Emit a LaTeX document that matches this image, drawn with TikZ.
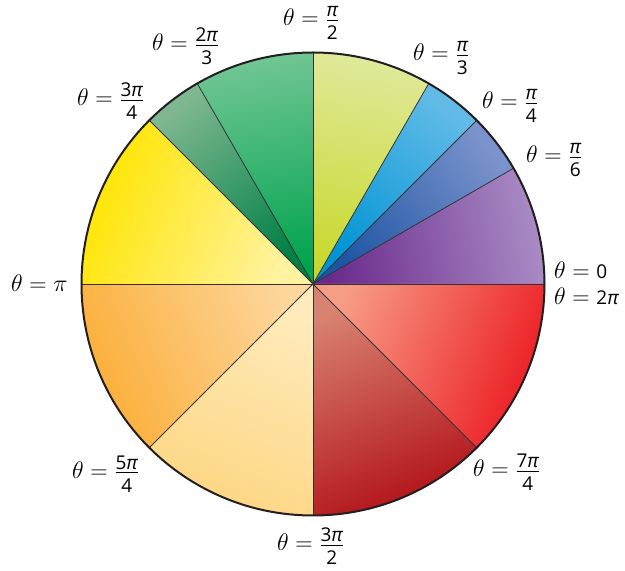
\RequirePackage{fix-cm}
\documentclass[tikz,border=0pt]{standalone}
\usepackage{amsmath}
\usepackage{fontspec}
\setsansfont{Open Sans}
\newcommand\sdig[1]{\mbox{\fontsize{19}{22}\selectfont\sffamily #1}}
\newcommand\spi{\mbox{\fontsize{19}{22}\selectfont\sffamily\itshape π}}
\newcommand\thlab[2]{$\theta = \genfrac{}{}{0.9pt}{1}{#1}{\rule{0pt}{18pt}#2}$}
\definecolor{puC}{HTML}{6A2A8C}\definecolor{puR}{HTML}{A98BC4}
\definecolor{bpC}{HTML}{1D55A3}\definecolor{bpR}{HTML}{7B93CC}
\definecolor{cyC}{HTML}{0094D4}\definecolor{cyR}{HTML}{62BBE7}
\definecolor{ygC}{HTML}{C8D82B}\definecolor{ygR}{HTML}{E0E99A}
\definecolor{grC}{HTML}{00A34E}\definecolor{grR}{HTML}{70C693}
\definecolor{ggC}{HTML}{008045}\definecolor{ggR}{HTML}{7EB792}
\definecolor{yeC}{HTML}{FFF3A2}\definecolor{yeR}{HTML}{FFE500}
\definecolor{orC}{HTML}{FDD69C}\definecolor{orR}{HTML}{FBAE38}
\definecolor{ltC}{HTML}{FFEBBC}\definecolor{ltR}{HTML}{FDD682}
\definecolor{drC}{HTML}{D8836F}\definecolor{drR}{HTML}{B21218}
\definecolor{reC}{HTML}{F79D85}\definecolor{reR}{HTML}{EC1C24}
\definecolor{rimcol}{HTML}{231F20}
\definecolor{spokecol}{HTML}{333333}
\newcommand\sector[6]{%
  \shade[bottom color=#3, middle color=#6, top color=#4, shading angle=#5]
    (C) -- ++(#1:231.5) arc[start angle=#1, end angle=#2, radius=231.5] -- cycle;}
\tikzset{
  lab/.style={inner sep=0pt, anchor=base west, font=\fontsize{24}{28}\selectfont},
  spoke/.style={draw=spokecol, line width=0.8pt},
  rim/.style={draw=rimcol, line width=2pt}
}
\begin{document}
\begin{tikzpicture}[x=1pt,y=1pt]
\useasboundingbox (0,0) rectangle (625,571);
\coordinate (C) at (313,287);
\sector{0}{30}{puC}{puR}{-80}{puC!50!puR}
\sector{30}{45}{bpC}{bpR}{-52.5}{bpC!50!bpR}
\sector{45}{60}{cyC}{cyR}{-37.5}{cyC!55!cyR}
\sector{60}{90}{ygC}{ygR}{-10}{ygC!50!ygR}
\sector{90}{120}{grC}{grR}{10}{grC!85!grR}
\sector{120}{135}{ggC}{ggR}{37.5}{ggC!50!ggR}
\sector{135}{180}{yeC}{yeR}{67.5}{yeC!50!yeR}
\sector{180}{225}{orC}{orR}{112.5}{orC!50!orR}
\sector{225}{270}{ltC}{ltR}{157.5}{ltC!50!ltR}
\sector{270}{315}{drC}{drR}{-157.5}{drC!50!drR}
\sector{315}{360}{reC}{reR}{-112.5}{reC!50!reR}
\foreach \a in {0,30,45,60,90,120,135,180,225,270,315}
  \draw[spoke] (C) -- ++(\a:231.5);
\draw[rim] (C) circle[radius=231.5];
\node[lab] (l90) at (283,545) {\thlab{\spi}{\sdig{2}}};
\node[lab] (l120) at (152,520) {\thlab{\sdig{2}\spi}{\sdig{3}}};
\node[lab] (l135) at (77,465) {\thlab{\sdig{3}\spi}{\sdig{4}}};
\node[lab] (l180) at (11,279) {$\theta = \pi$};
\node[lab] (l225) at (72,92.3) {\thlab{\sdig{5}\spi}{\sdig{4}}};
\node[lab] (l270) at (277,20) {\thlab{\sdig{3}\spi}{\sdig{2}}};
\node[lab] (l315) at (473,94) {\thlab{\sdig{7}\spi}{\sdig{4}}};
\node[lab] (l360) at (554,266) {$\theta = \sdig{2}\spi$};
\node[lab] (l0) at (554,292) {$\theta = \sdig{0}$};
\node[lab] (l30) at (526,408) {\thlab{\spi}{\sdig{6}}};
\node[lab] (l45) at (482,462) {\thlab{\spi}{\sdig{4}}};
\node[lab] (l60) at (413,510) {\thlab{\spi}{\sdig{3}}};
\end{tikzpicture}
\end{document}
